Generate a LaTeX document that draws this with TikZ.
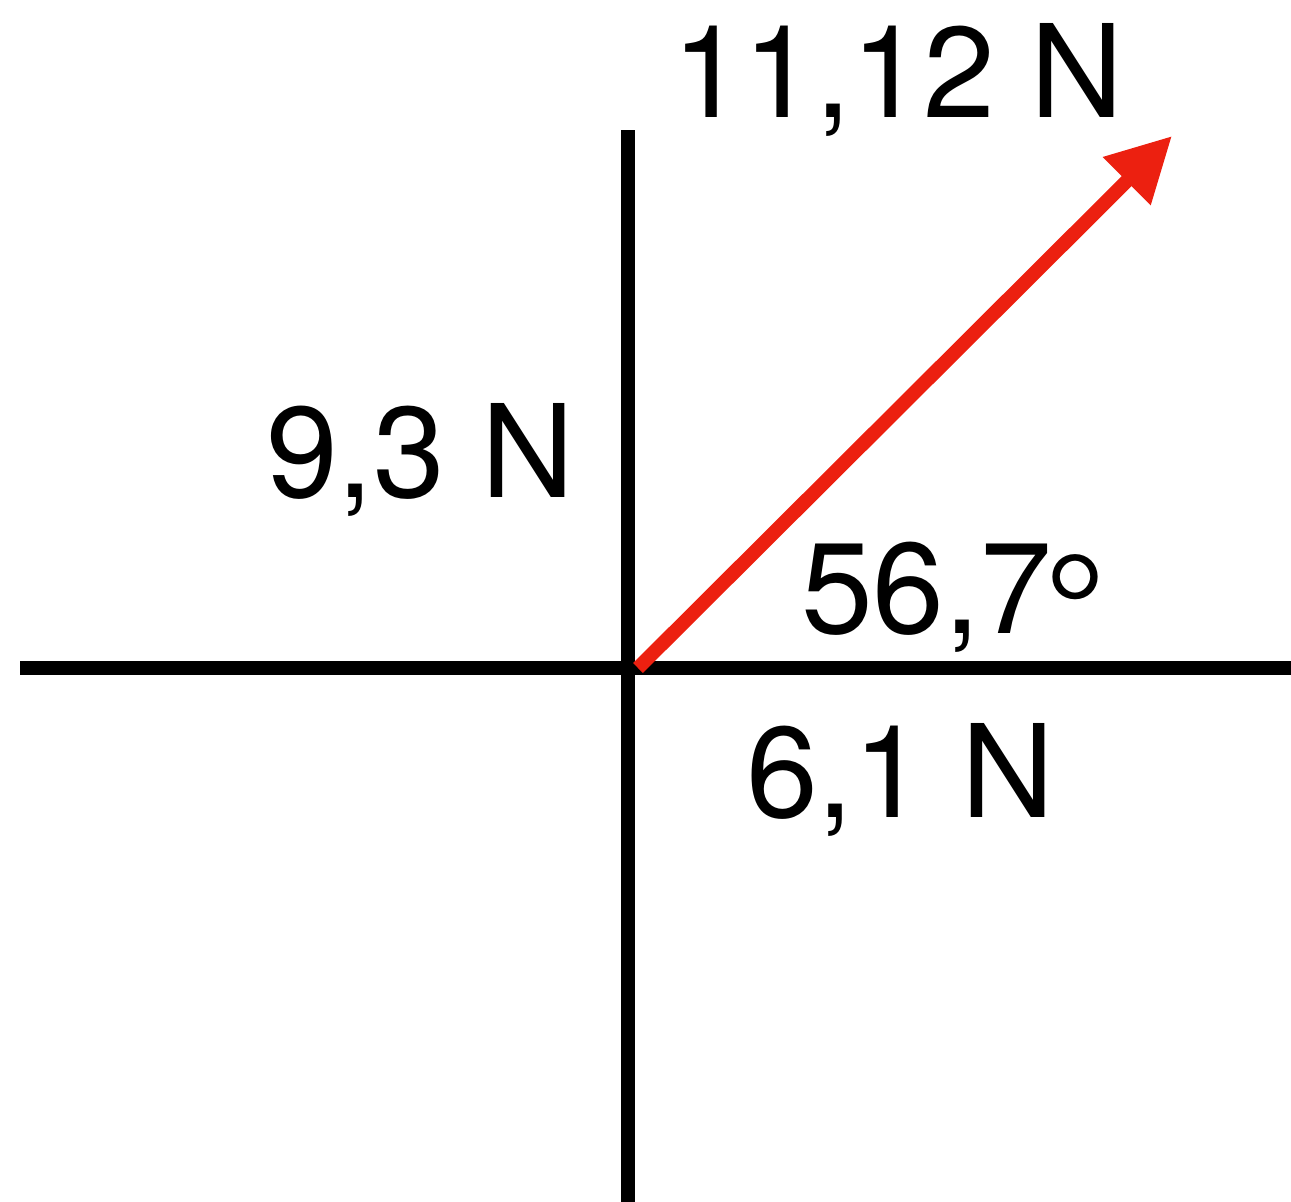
\documentclass[tikz,border=0pt]{standalone}
\usepackage{fontspec}
\setmainfont{TeX Gyre Heros}
\usetikzlibrary{arrows.meta}
\definecolor{forcered}{RGB}{236,32,16}
\begin{document}
\begin{tikzpicture}[x=1pt, y=-1pt,
    axis/.style={line width=14pt},
    force/.style={line width=14pt, forcered, -{Triangle[length=64pt, width=64pt]}},
    lbl/.style={anchor=base west, inner sep=0pt, font=\fontsize{129}{129}\selectfont}]
  \useasboundingbox (0,0) rectangle (1291,1202);
  % axes
  \coordinate (west) at (20,668);
  \coordinate (east) at (1291,668);
  \coordinate (north) at (628,130);
  \coordinate (south) at (628,1202);
  \draw[axis] (west) -- (east);
  \draw[axis] (north) -- (south);
  % resultant force
  \coordinate (origin) at (638,668);
  \coordinate (tip) at (1172,136);
  \draw[force] (origin) -- (tip);
  % labels
  \node[lbl] (total) at (672,117) {11,12 N};
  \node[lbl] (vert) at (266,497) {9,3 N};
  \node[lbl] (angle) at (801,633) {56,7\hspace{-8pt}\raisebox{-30pt}{\fontsize{155}{155}\selectfont °}};
  \node[lbl] (horiz) at (746,817) {6,1 N};
\end{tikzpicture}
\end{document}
